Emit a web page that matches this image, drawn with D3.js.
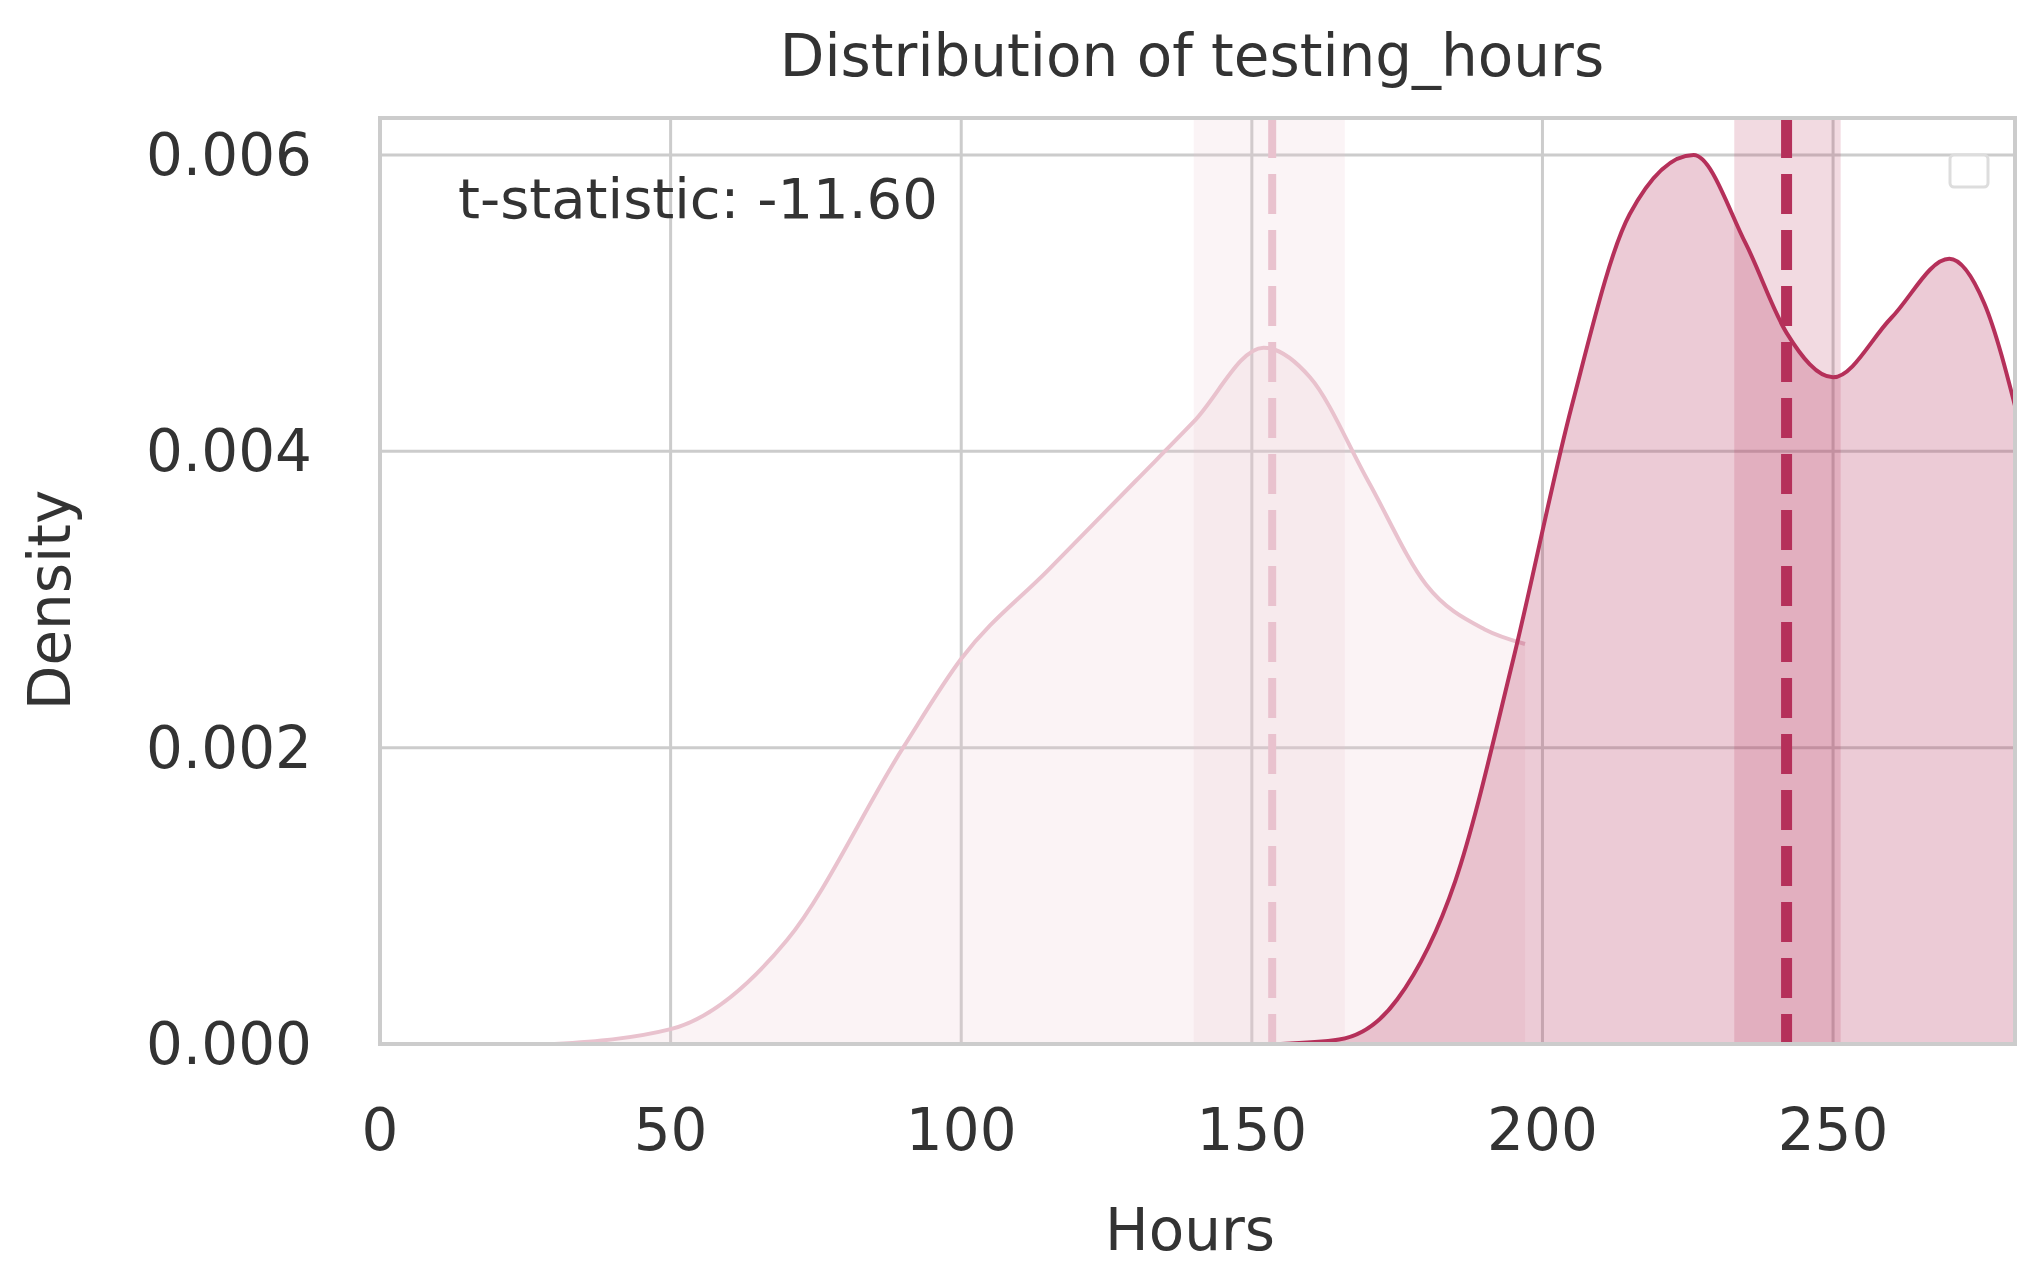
<!DOCTYPE html>
<html><head><meta charset="utf-8">
<script src="https://cdn.jsdelivr.net/npm/d3@7"></script>
<style>body{margin:0;background:#fff}text{font-family:"DejaVu Sans",sans-serif;fill:#333}</style>
</head><body><svg id="c" width="2024" height="1272"></svg>
<script>
// data
const lightX = [30, 50, 70, 90, 100, 115, 130, 140, 152, 160, 170, 180, 190, 197];
const lightY = [0, 0.0001, 0.0007, 0.0020, 0.0026, 0.0032, 0.0038, 0.0042, 0.0047, 0.0045, 0.0038, 0.0031, 0.0028, 0.0027];
const darkX = [155, 165, 175, 185, 195, 205, 215, 226, 235, 242, 250, 260, 270, 276, 282];
const darkY = [0, 0.00003, 0.0003, 0.0011, 0.0026, 0.0043, 0.0056, 0.0060, 0.0054, 0.0048, 0.0045, 0.0049, 0.0053, 0.0050, 0.0042];
const lightMean = 153.5, lightCI = [140, 166];
const darkMean = 242, darkCI = [233, 251.3];
const xTicks = [0, 50, 100, 150, 200, 250];
const yTicks = [0, 0.002, 0.004, 0.006];

const m = {left: 380, right: 2015, top: 118, bottom: 1044};
const x = d3.scaleLinear().domain([0, 281.3]).range([m.left, m.right]);
const y = d3.scaleLinear().domain([0, 0.00625]).range([m.bottom, m.top]);
const svg = d3.select("#c");
const dark = "#b5305a", light = "#e9c2ce";

svg.append("clipPath").attr("id", "clip").append("rect")
  .attr("x", m.left).attr("y", m.top).attr("width", m.right - m.left).attr("height", m.bottom - m.top);

// grid
svg.append("g").selectAll("line").data(xTicks).join("line")
  .attr("x1", d => x(d)).attr("x2", d => x(d)).attr("y1", m.top).attr("y2", m.bottom)
  .attr("stroke", "#ccc").attr("stroke-width", 3);
svg.append("g").selectAll("line").data(yTicks).join("line")
  .attr("x1", m.left).attr("x2", m.right).attr("y1", d => y(d)).attr("y2", d => y(d))
  .attr("stroke", "#ccc").attr("stroke-width", 3);

const g = svg.append("g").attr("clip-path", "url(#clip)");
const area = d3.area().x(d => x(d[0])).y0(y(0)).y1(d => y(d[1])).curve(d3.curveMonotoneX);
const line = d3.line().x(d => x(d[0])).y(d => y(d[1])).curve(d3.curveMonotoneX);
const lp = d3.zip(lightX, lightY), dp = d3.zip(darkX, darkY);

g.append("path").datum(lp).attr("d", area).attr("fill", light).attr("fill-opacity", 0.2);
g.append("path").datum(lp).attr("d", line).attr("fill", "none").attr("stroke", light).attr("stroke-width", 4);
g.append("rect").attr("x", x(lightCI[0])).attr("width", x(lightCI[1]) - x(lightCI[0]))
  .attr("y", m.top).attr("height", m.bottom - m.top).attr("fill", light).attr("fill-opacity", 0.18);
g.append("line").attr("x1", x(lightMean)).attr("x2", x(lightMean)).attr("y1", m.top).attr("y2", m.bottom)
  .attr("stroke", light).attr("stroke-width", 8).attr("stroke-dasharray", "40,16");

g.append("path").datum(dp).attr("d", area).attr("fill", dark).attr("fill-opacity", 0.25);
g.append("path").datum(dp).attr("d", line).attr("fill", "none").attr("stroke", dark).attr("stroke-width", 4);
g.append("rect").attr("x", x(darkCI[0])).attr("width", x(darkCI[1]) - x(darkCI[0]))
  .attr("y", m.top).attr("height", m.bottom - m.top).attr("fill", dark).attr("fill-opacity", 0.18);
g.append("line").attr("x1", x(darkMean)).attr("x2", x(darkMean)).attr("y1", m.top).attr("y2", m.bottom)
  .attr("stroke", dark).attr("stroke-width", 11).attr("stroke-dasharray", "40,16");

// frame
svg.append("rect").attr("x", m.left).attr("y", m.top).attr("width", m.right - m.left).attr("height", m.bottom - m.top)
  .attr("fill", "none").attr("stroke", "#ccc").attr("stroke-width", 4);

// empty legend box
svg.append("rect").attr("x", 1950).attr("y", 155).attr("width", 38).attr("height", 32).attr("rx", 4)
  .attr("fill", "#fff").attr("stroke", "#ddd").attr("stroke-width", 3);

// ticks
svg.append("g").selectAll("text").data(xTicks).join("text")
  .attr("x", d => x(d)).attr("y", 1150).attr("text-anchor", "middle").attr("font-size", 58).text(d => d);
svg.append("g").selectAll("text").data(yTicks).join("text")
  .attr("x", 312).attr("y", d => y(d) + 20).attr("text-anchor", "end").attr("font-size", 58).text(d => d.toFixed(3));

svg.append("text").attr("x", 1192).attr("y", 76).attr("text-anchor", "middle").attr("font-size", 58).text("Distribution of testing_hours");
svg.append("text").attr("x", 1190).attr("y", 1250).attr("text-anchor", "middle").attr("font-size", 58).text("Hours");
svg.append("text").attr("transform", "translate(70,600) rotate(-90)").attr("text-anchor", "middle").attr("font-size", 58).text("Density");
svg.append("text").attr("x", 458).attr("y", 218).attr("font-size", 56).text("t-statistic: -11.60");
</script></body></html>
